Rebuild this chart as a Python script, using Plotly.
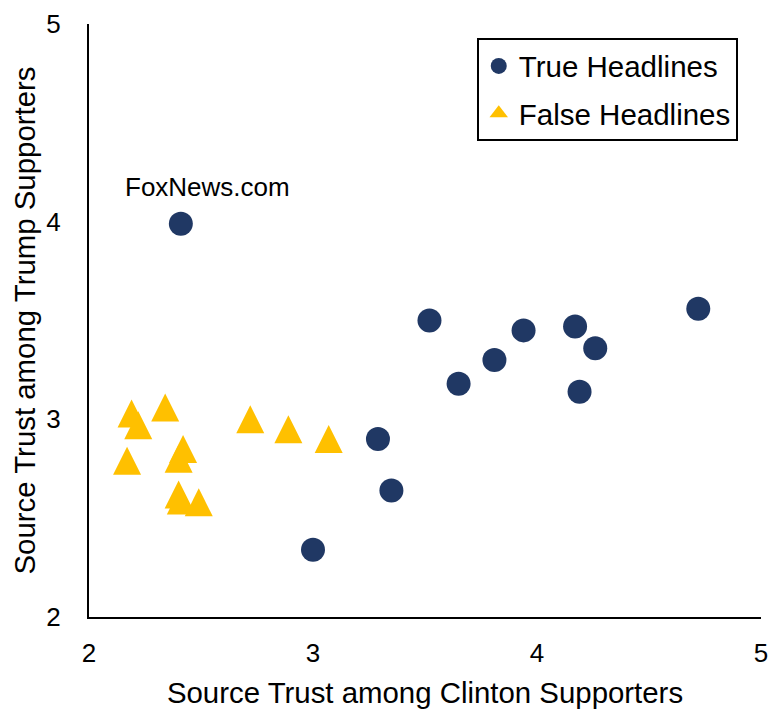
import plotly.graph_objects as go

# True headlines (navy circles)
true_x = [2.41, 3.52, 3.94, 4.17, 4.72, 4.26, 3.81, 3.65, 4.19, 3.29, 3.35, 3.00]
true_y = [3.99, 3.50, 3.45, 3.47, 3.56, 3.36, 3.30, 3.18, 3.14, 2.90, 2.64, 2.34]

# False headlines (gold triangles)
false_x = [2.19, 2.22, 2.34, 2.17, 2.42, 2.40, 2.40, 2.41, 2.49, 2.72, 2.89, 3.07]
false_y = [3.03, 2.97, 3.06, 2.79, 2.85, 2.80, 2.62, 2.59, 2.58, 3.00, 2.95, 2.90]

tick_vals = [2, 3, 4, 5]
tick_text = ["2", "3", "4", "5"]

label_text = "FoxNews.com"
label_x = 2.53
label_y = 4.175

FONT = "Liberation Sans, Arial, sans-serif"
NAVY = "#203864"
GOLD = "#FFC000"
TRI = 28

fig = go.Figure()
fig.add_trace(go.Scatter(
    x=true_x, y=true_y, mode="markers", name="True Headlines",
    legendgroup="t",
    marker=dict(symbol="circle", size=24, color=NAVY, line=dict(width=0)),
))
fig.add_trace(go.Scatter(
    x=false_x, y=false_y, mode="markers", name="False Headlines",
    legendgroup="f", showlegend=False,
    marker=dict(symbol="arrow-down", angle=180, standoff=TRI / 2, size=TRI,
                color=GOLD, line=dict(width=0)),
))
# legend entry for the triangles
fig.add_trace(go.Scatter(
    x=[None], y=[None], mode="markers", name="False Headlines",
    legendgroup="f",
    marker=dict(symbol="triangle-up", size=16, color=GOLD, line=dict(width=0)),
))

fig.add_annotation(x=label_x, y=label_y, text=label_text, showarrow=False,
                   font=dict(family=FONT, size=26, color="black"))

axis_common = dict(
    range=[2, 5], tickvals=tick_vals, ticktext=tick_text, automargin=False,
    showgrid=False, zeroline=False, showline=True, linecolor="black", linewidth=2,
    ticks="", tickfont=dict(family=FONT, size=26, color="black"),
)

fig.update_layout(
    width=770, height=711,
    margin=dict(l=89, r=9, t=24, b=94),
    paper_bgcolor="white", plot_bgcolor="white",
    font=dict(family=FONT, color="black"),
    showlegend=True,
    legend=dict(
        x=0.577, y=0.976, xanchor="left", yanchor="top",
        bordercolor="black", borderwidth=2, bgcolor="white",
        font=dict(family=FONT, size=29.5, color="black"),
        tracegroupgap=6,
    ),
    xaxis=dict(**axis_common, ticklabelstandoff=12,
               title=dict(text="Source Trust among Clinton Supporters",
                          font=dict(family=FONT, size=29.4, color="black"),
                          standoff=15)),
    yaxis=dict(**axis_common, ticklabelstandoff=21,
               title=dict(text="Source Trust among Trump Supporters",
                          font=dict(family=FONT, size=29.4, color="black"),
                          standoff=2)),
)

fig.write_html("out.html")
